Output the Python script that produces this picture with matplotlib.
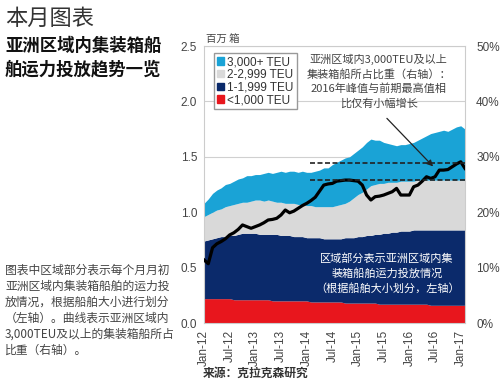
import numpy as np
import matplotlib.pyplot as plt
from matplotlib.patches import Patch

plt.rcParams['font.family'] = ['Liberation Sans', 'Noto Sans CJK SC', 'DejaVu Sans']

# monthly values, Jan-12 .. Feb-17 (million TEU, cumulative tops)
months = np.arange(62)
tick_labels = ['Jan-12', 'Jul-12', 'Jan-13', 'Jul-13', 'Jan-14', 'Jul-14',
               'Jan-15', 'Jul-15', 'Jan-16', 'Jul-16', 'Jan-17']

under_1000 = [0.22, 0.22, 0.22, 0.22, 0.22, 0.22, 0.22, 0.21, 0.21, 0.21, 0.21, 0.21,
              0.21, 0.21, 0.21, 0.21, 0.20, 0.20, 0.20, 0.20, 0.20, 0.20, 0.20, 0.20,
              0.20, 0.19, 0.19, 0.19, 0.19, 0.19, 0.19, 0.19, 0.19, 0.18, 0.18, 0.18,
              0.18, 0.18, 0.18, 0.18, 0.18, 0.17, 0.17, 0.17, 0.17, 0.17, 0.17, 0.17,
              0.17, 0.17, 0.17, 0.17, 0.17, 0.16, 0.16, 0.16, 0.16, 0.16, 0.16, 0.16,
              0.16, 0.16]
top_1999 = [0.74, 0.75, 0.76, 0.77, 0.78, 0.78, 0.79, 0.79, 0.80, 0.81, 0.81, 0.81,
            0.81, 0.80, 0.80, 0.80, 0.80, 0.80, 0.79, 0.79, 0.79, 0.78, 0.78, 0.78,
            0.77, 0.77, 0.77, 0.77, 0.76, 0.76, 0.76, 0.76, 0.76, 0.77, 0.77, 0.77,
            0.78, 0.78, 0.79, 0.79, 0.80, 0.80, 0.81, 0.81, 0.82, 0.82, 0.83, 0.83,
            0.83, 0.84, 0.84, 0.84, 0.84, 0.84, 0.84, 0.84, 0.84, 0.84, 0.84, 0.84,
            0.84, 0.84]
top_2999 = [0.96, 0.98, 1.00, 1.02, 1.03, 1.05, 1.06, 1.07, 1.08, 1.09, 1.09, 1.10,
            1.11, 1.11, 1.10, 1.11, 1.10, 1.09, 1.09, 1.08, 1.08, 1.08, 1.07, 1.07,
            1.06, 1.06, 1.05, 1.05, 1.05, 1.05, 1.05, 1.06, 1.07, 1.08, 1.10, 1.13,
            1.16, 1.18, 1.21, 1.24, 1.25, 1.26, 1.26, 1.27, 1.27, 1.27, 1.28, 1.28,
            1.28, 1.28, 1.29, 1.29, 1.29, 1.29, 1.29, 1.29, 1.29, 1.29, 1.29, 1.29,
            1.29, 1.29]
top_3000 = [1.08, 1.12, 1.17, 1.20, 1.22, 1.25, 1.26, 1.28, 1.30, 1.31, 1.33, 1.33,
            1.34, 1.34, 1.35, 1.36, 1.35, 1.36, 1.37, 1.36, 1.37, 1.37, 1.36, 1.37,
            1.36, 1.36, 1.37, 1.38, 1.40, 1.40, 1.43, 1.45, 1.47, 1.49, 1.50, 1.53,
            1.56, 1.59, 1.63, 1.66, 1.65, 1.65, 1.63, 1.62, 1.61, 1.60, 1.61, 1.61,
            1.62, 1.63, 1.65, 1.67, 1.69, 1.71, 1.72, 1.73, 1.74, 1.73, 1.75, 1.77,
            1.78, 1.75]
# share of 3,000+ TEU ships (%), right axis
share_3000 = [11.4, 10.7, 13.6, 14.3, 14.7, 15.2, 15.9, 16.3, 16.9, 17.7, 17.4, 17.1,
              17.4, 17.7, 18.1, 18.6, 18.7, 18.9, 19.5, 20.4, 19.9, 20.2, 20.7, 21.2,
              21.6, 22.1, 22.7, 23.8, 24.9, 25.1, 25.2, 25.6, 25.7, 25.8, 25.8, 25.7,
              25.6, 24.9, 23.1, 22.2, 22.8, 22.9, 23.1, 23.4, 23.7, 24.3, 23.1, 23.1,
              23.1, 24.6, 24.9, 25.6, 26.4, 26.1, 26.4, 27.6, 27.6, 27.7, 28.2, 28.7,
              29.1, 27.9]
prev_peak = 25.9
peak_2016 = 28.9

c_red, c_navy, c_gray, c_cyan = '#e8161d', '#0b2a6b', '#d9d9d9', '#1aa3d6'

fig = plt.figure(figsize=(5, 3.85), dpi=100)
ax = fig.add_axes([0.408, 0.161, 0.522, 0.7195])

ax.set_axisbelow(True)
ax.yaxis.grid(True, color='#d0d0d0', lw=0.8)
ax.fill_between(months, 0, under_1000, color=c_red, lw=0)
ax.fill_between(months, under_1000, top_1999, color=c_navy, lw=0)
ax.fill_between(months, top_1999, top_2999, color=c_gray, lw=0)
ax.fill_between(months, top_2999, top_3000, color=c_cyan, lw=0)
ax.set_xlim(0, 61)
ax.set_ylim(0, 2.5)
ax.set_yticks(np.arange(0, 2.51, 0.5))
ax.set_yticklabels([f'{v:.1f}' for v in np.arange(0, 2.51, 0.5)])
ax.set_xticks(np.arange(0, 61, 6))
ax.set_xticklabels(tick_labels, rotation=90)
ax.tick_params(length=0, labelsize=8.5, colors='#444444', pad=5)
for s in ax.spines.values():
    s.set_color('#cccccc')
    s.set_linewidth(0.8)

ax2 = ax.twinx()
ax2.plot(months, share_3000, color='black', lw=2.3)
ax2.hlines([peak_2016, prev_peak], 24.8, 61, colors='#222222', linestyles=(0, (3, 1.5)), lw=1.2)
ax2.set_ylim(0, 50)
ax2.set_yticks(np.arange(0, 51, 10))
ax2.set_yticklabels([f'{v}%' for v in range(0, 51, 10)])
ax2.tick_params(length=0, labelsize=8.5, colors='#444444', pad=8)
for s in ax2.spines.values():
    s.set_visible(False)

handles = [Patch(color=c_cyan), Patch(color=c_gray), Patch(color=c_navy), Patch(color=c_red)]
leg = ax.legend(handles, ['3,000+ TEU', '2-2,999 TEU', '1-1,999 TEU', '<1,000 TEU'],
                loc='upper left', bbox_to_anchor=(0.015, 0.995), fontsize=8.5,
                handlelength=0.6, handleheight=0.6, handletextpad=0.3,
                labelspacing=0.05, borderpad=0.25, fancybox=False, edgecolor='#999999',
                framealpha=1)
for t in leg.get_texts():
    t.set_color('#333333')

ax2.annotate('', xy=(54, 27.9), xytext=(42.3, 37.3),
             arrowprops=dict(arrowstyle='-|>', color='#222222', lw=0.9, mutation_scale=9))
ax2.text(40.8, 48.6, '亚洲区域内3,000TEU及以上\n集装箱船所占比重（右轴）：\n2016年峰值与前期最高值相\n比仅有小幅增长',
         ha='center', va='top', fontsize=8, color='#444444', linespacing=1.45,
         family=['Noto Sans CJK SC', 'DejaVu Sans'])
ax2.text(42.8, 9.0, '区域部分表示亚洲区域内集\n装箱船舶运力投放情况\n（根据船舶大小划分，左轴）',
         ha='center', va='center', fontsize=8, color='white', linespacing=1.45,
         family=['Noto Sans CJK SC', 'DejaVu Sans'])

fig.text(0.412, 0.9, '百万 箱', fontsize=7.5, color='#444444', va='center',
         family=['Noto Sans CJK SC'])

fig.text(0.01, 0.953, '本月图表', fontsize=16, color='#333333', va='center',
         family=['Noto Sans CJK SC'], weight='light')
fig.text(0.01, 0.905, '亚洲区域内集装箱船\n舶运力投放趋势一览', fontsize=12.5, color='#111111',
         va='top', family=['Noto Sans CJK SC'], weight='bold', linespacing=1.45)
fig.text(0.01, 0.316, '图表中区域部分表示每个月月初\n亚洲区域内集装箱船舶的运力投\n放情况，根据船舶大小进行划分\n（左轴）。曲线表示亚洲区域内\n3,000TEU及以上的集装箱船所占\n比重（右轴）。',
         fontsize=8.5, color='#444444', va='top', linespacing=1.3,
         family=['Noto Sans CJK SC', 'DejaVu Sans'])
fig.text(0.405, 0.03, '来源：克拉克森研究', fontsize=8.5, color='#333333', va='center',
         family=['Noto Sans CJK SC'], weight='bold')

fig.savefig('out.png', dpi=100)
